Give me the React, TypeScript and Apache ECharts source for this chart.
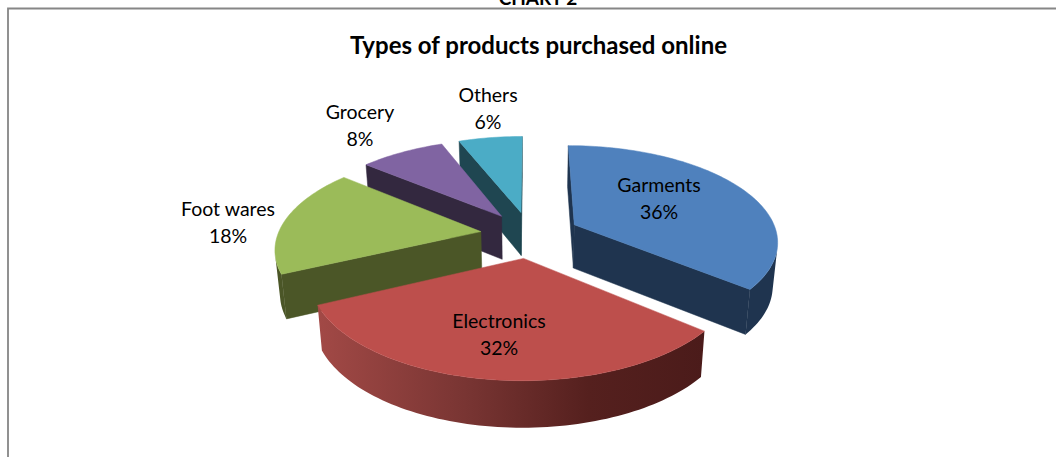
import React, { useEffect, useRef } from "react";
import * as echarts from "echarts";

// Share of each product type, in percent, going clockwise from twelve o'clock.
const categories = ["Garments", "Electronics", "Foot wares", "Grocery", "Others"];
const shares = [36, 32, 18, 8, 6];

// Slices are painted from the far side of the pie to the near side.
const paintOrder = ["Others", "Grocery", "Foot wares", "Garments", "Electronics"];

const topColors: Record<string, string> = {
  Garments: "#4f81bd",
  Electronics: "#bd4f4c",
  "Foot wares": "#9bbb59",
  Grocery: "#8064a2",
  Others: "#4bacc6",
};
const wallColors: Record<string, string> = {
  Garments: "#1f344f",
  Electronics: "#4f1e1c",
  "Foot wares": "#4b5627",
  Grocery: "#33283f",
  Others: "#1f4651",
};
const labelAnchors: Record<string, [number, number]> = {
  Garments: [659, 198],
  Electronics: [499, 334],
  "Foot wares": [228, 222],
  Grocery: [360, 125],
  Others: [488, 108],
};

// Perspective camera looking down on the pie plane.
const view = { cx: 530, cy: 234.5, sx: 203, sy: 94.5, persp: 0.158, explode: 0.245, depth: 43.5 };
const FONT = 'Lato, "Open Sans", sans-serif';
const TAU = Math.PI * 2;

type Pt = [number, number];

function projectTop(X: number, Y: number): Pt {
  const w = 1 + view.persp * Y;
  return [view.cx + (view.sx * X) / w, view.cy - (view.sy * Y) / w];
}

function dropToBase(X: number, Y: number): Pt {
  const [x, y] = projectTop(X, Y);
  return [view.cx + (x - view.cx) * 0.98, y + view.depth / (1 + 0.06 * Y)];
}

function quadArea(a: Pt, b: Pt, c: Pt, d: Pt): number {
  const p = [a, b, c, d];
  let s = 0;
  for (let i = 0; i < 4; i++) {
    const q = p[(i + 1) % 4];
    s += p[i][0] * q[1] - q[0] * p[i][1];
  }
  return s / 2;
}

function sliceBounds(name: string): [number, number] {
  const total = shares.reduce((a, b) => a + b, 0);
  const idx = categories.indexOf(name);
  const before = shares.slice(0, idx).reduce((a, b) => a + b, 0);
  return [(before / total) * TAU, ((before + shares[idx]) / total) * TAU];
}

function renderSlice(params: any) {
  const name = paintOrder[params.dataIndex];
  const share = shares[categories.indexOf(name)];
  const [start, end] = sliceBounds(name);
  const mid = (start + end) / 2;
  const ox = view.explode * Math.sin(mid);
  const oy = view.explode * Math.cos(mid);

  // Rim samples in pie-plane coordinates.
  const steps = Math.max(12, Math.round((end - start) * 40));
  const rim: Pt[] = [];
  for (let i = 0; i <= steps; i++) {
    const t = start + ((end - start) * i) / steps;
    rim.push([ox + Math.sin(t), oy + Math.cos(t)]);
  }
  const apex: Pt = [ox, oy];
  const wall = wallColors[name];
  const children: any[] = [];

  const addRadialWall = (a: Pt, b: Pt) => {
    const ta = projectTop(a[0], a[1]);
    const tb = projectTop(b[0], b[1]);
    const bb = dropToBase(b[0], b[1]);
    const ba = dropToBase(a[0], a[1]);
    if (quadArea(ta, tb, bb, ba) < 0) {
      children.push({
        type: "polygon",
        shape: { points: [ta, tb, bb, ba] },
        style: { fill: wall, stroke: wall, lineWidth: 0.5 },
      });
    }
  };
  addRadialWall(apex, rim[0]);
  addRadialWall(rim[rim.length - 1], apex);

  // Outer curved wall: only the samples that face the camera.
  const upper: Pt[] = [];
  const lower: Pt[] = [];
  for (let i = 0; i < steps; i++) {
    const ta = projectTop(rim[i][0], rim[i][1]);
    const tb = projectTop(rim[i + 1][0], rim[i + 1][1]);
    const bb = dropToBase(rim[i + 1][0], rim[i + 1][1]);
    const ba = dropToBase(rim[i][0], rim[i][1]);
    if (quadArea(ta, tb, bb, ba) < 0) {
      if (!upper.length) {
        upper.push(ta);
        lower.push(ba);
      }
      upper.push(tb);
      lower.push(bb);
    }
  }
  if (upper.length) {
    const fill =
      name === "Electronics"
        ? new echarts.graphic.LinearGradient(0, 0, 1, 0, [
            { offset: 0, color: "#a24946" },
            { offset: 0.38, color: "#793533" },
            { offset: 0.7, color: "#55201e" },
            { offset: 1, color: "#4b1b1a" },
          ])
        : wall;
    children.push({
      type: "polygon",
      shape: { points: [...upper, ...lower.reverse()] },
      style: { fill, stroke: null, lineWidth: 0 },
    });
  }

  const topFace = [apex, ...rim].map((p) => projectTop(p[0], p[1]));
  children.push({
    type: "polygon",
    shape: { points: topFace },
    style: { fill: topColors[name], stroke: topColors[name], lineWidth: 0.5 },
  });

  const [lx, ly] = labelAnchors[name];
  children.push({
    type: "text",
    z2: 50,
    style: {
      text: `${name}\n${share}%`,
      x: lx,
      y: ly,
      align: "center",
      verticalAlign: "middle",
      lineHeight: 27,
      font: `19.5px ${FONT}`,
      fill: "#000000",
    },
  });
  return { type: "group", children };
}

export default function App() {
  const ref = useRef<HTMLDivElement>(null);
  useEffect(() => {
    document.body.style.margin = "0";
    const chart = echarts.init(ref.current!, null, { renderer: "svg" });
    chart.setOption({
      animation: false,
      backgroundColor: "#ffffff",
      graphic: [
        {
          type: "rect",
          shape: { x: 8, y: 8.5, width: 1400, height: 800 },
          style: { fill: "none", stroke: "#868686", lineWidth: 1.8 },
          silent: true,
        },
        {
          type: "text",
          style: {
            text: "CHART 2",
            x: 538,
            y: -3,
            align: "center",
            verticalAlign: "middle",
            font: `bold 19px ${FONT}`,
            fill: "#000000",
          },
          silent: true,
        },
        {
          type: "text",
          style: {
            text: "Types of products purchased online",
            x: 538.5,
            y: 44.5,
            align: "center",
            verticalAlign: "middle",
            font: `bold 24px ${FONT}`,
            fill: "#000000",
          },
          silent: true,
        },
      ],
      series: [
        {
          type: "custom",
          coordinateSystem: "none",
          silent: true,
          renderItem: renderSlice,
          data: paintOrder.map((n) => shares[categories.indexOf(n)]),
        },
      ],
    });
    return () => chart.dispose();
  }, []);
  return <div ref={ref} style={{ width: 1056, height: 457 }} />;
}
